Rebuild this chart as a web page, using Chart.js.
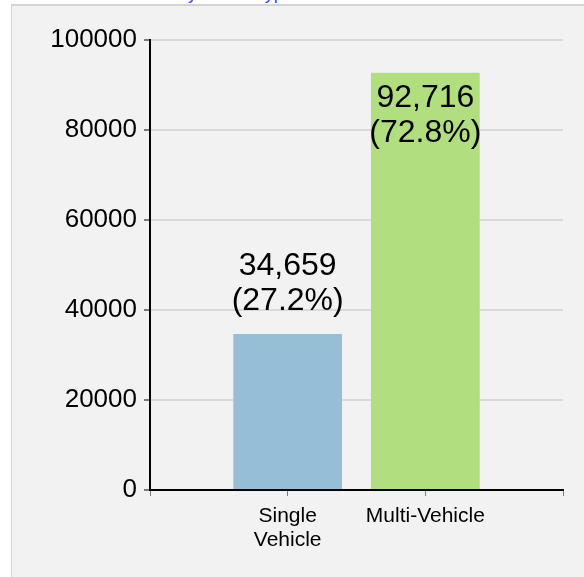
<!DOCTYPE html>
<html>
<head>
<meta charset="utf-8">
<script src="https://cdn.jsdelivr.net/npm/chart.js@4"></script>
<style>
  html, body { margin: 0; padding: 0; background: #ffffff; overflow: hidden; }
  body { width: 584px; height: 577px; position: relative; font-family: "Liberation Sans", Arial, sans-serif; }
  #title { position: absolute; left: 63px; top: -16px; font-size: 18px; line-height: 18px; color: #4040ff; white-space: nowrap; }
  #panel { position: absolute; left: 11px; top: 4px; width: 620px; height: 620px; background: #f2f2f2;
           border-top: 2px solid #d3d3d3; border-left: 1px solid #d6d6d6; }
  #wrap { position: absolute; left: 0; top: 0; width: 584px; height: 577px; }
</style>
</head>
<body>
<div id="title">Total Crashes by Crash Type</div>
<div id="panel"></div>
<div id="wrap"><canvas id="c" width="584" height="577"></canvas></div>
<script>
// ---- data ----
const categories = ['', ['Single', 'Vehicle'], 'Multi-Vehicle', ''];
const crashCounts = [null, 34659, 92716, null];
const barColors = ['#96bfd7', '#96bfd7', '#b1de7f', '#b1de7f'];
const yTickValues = [0, 20000, 40000, 60000, 80000, 100000];

const total = crashCounts.reduce((s, v) => s + (v || 0), 0);

const labelPlugin = {
  id: 'barLabels',
  afterDatasetsDraw(chart) {
    const ctx = chart.ctx;
    const meta = chart.getDatasetMeta(0);
    const area = chart.chartArea;
    ctx.save();
    ctx.font = '32px "Liberation Sans", Arial, sans-serif';
    ctx.fillStyle = '#000000';
    ctx.textAlign = 'center';
    ctx.textBaseline = 'alphabetic';
    meta.data.forEach((bar, i) => {
      const v = crashCounts[i];
      if (v == null) return;
      const l1 = v.toLocaleString('en-US');
      const l2 = '(' + (v / total * 100).toFixed(1) + '%)';
      const top = bar.y;
      let b1, b2;
      if (top - 59 - 24 < area.top) {
        b1 = top + 34; b2 = top + 69;
      } else {
        b1 = top - 59; b2 = top - 24;
      }
      ctx.fillText(l1, bar.x, b1);
      ctx.fillText(l2, bar.x, b2);
    });
    ctx.restore();
  }
};

new Chart(document.getElementById('c'), {
  type: 'bar',
  data: {
    labels: categories,
    datasets: [{
      data: crashCounts,
      backgroundColor: barColors,
      borderWidth: 0,
      categoryPercentage: 1,
      barPercentage: 0.79
    }]
  },
  options: {
    responsive: false,
    animation: false,
    events: [],
    layout: { padding: { left: 0, right: 21, top: 40, bottom: 0 } },
    plugins: { legend: { display: false }, tooltip: { enabled: false }, title: { display: false } },
    scales: {
      x: {
        offset: false,
        grid: { offset: false, drawOnChartArea: false, tickColor: '#7a7a7a', tickLength: 6, lineWidth: 1 },
        border: { color: '#000000', width: 2 },
        ticks: {
          color: '#000000', maxRotation: 0, autoSkip: false, padding: 8,
          font: { family: '"Liberation Sans", Arial, sans-serif', size: 21, lineHeight: 1.15 }
        },
        afterFit(scale) { scale.height = 87; }
      },
      y: {
        min: 0, max: 100000,
        afterBuildTicks(scale) { scale.ticks = yTickValues.map(v => ({ value: v })); },
        grid: { color: '#d9d9d9', tickColor: '#7a7a7a', tickLength: 6, lineWidth: 2 },
        border: { color: '#000000', width: 2 },
        ticks: {
          color: '#000000', padding: 7,
          font: { family: '"Liberation Sans", Arial, sans-serif', size: 26 },
          callback: v => String(v)
        },
        afterFit(scale) { scale.width = 150; }
      }
    }
  },
  plugins: [labelPlugin]
});
</script>
</body>
</html>
